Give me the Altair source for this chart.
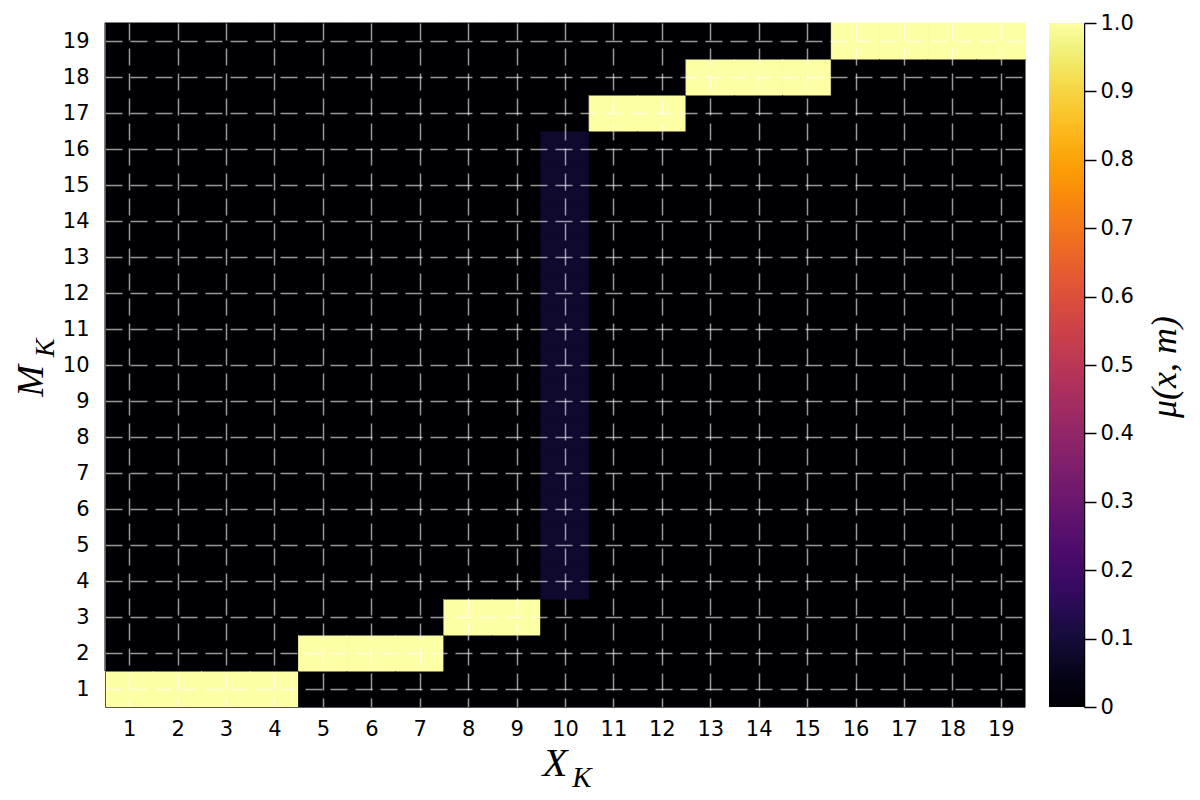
import altair as alt
import pandas as pd
import numpy as np

# ---- data ----
X_K = list(range(1, 20))
M_K = list(range(1, 20))

# non-zero cells of mu(x, m)
nz_x = [1, 2, 3, 4, 5, 6, 7, 8, 9] + [10] * 13 + [11, 12, 13, 14, 15, 16, 17, 18, 19]
nz_m = [1, 1, 1, 1, 2, 2, 2, 3, 3] + list(range(4, 17)) + [17, 17, 18, 18, 18, 19, 19, 19, 19]
nz_mu = [1.0] * 9 + [0.077] * 13 + [1.0] * 9

cbar_ticks = [0, 0.1, 0.2, 0.3, 0.4, 0.5, 0.6, 0.7, 0.8, 0.9, 1.0]

lookup = {(a, b): c for a, b, c in zip(nz_x, nz_m, nz_mu)}
rows = []
for x in X_K:
    for m in M_K:
        rows.append({"x": x, "m": m, "mu": lookup.get((x, m), 0.0)})
df = pd.DataFrame(rows)

# colorbar gradient samples
n = 200
cv = np.linspace(0, 1, n)
step = 1.0 / (n - 1)
cb = pd.DataFrame({"v": cv, "v2": np.minimum(cv + 1.6 * step, 1.0)})

W, H = 920, 684
FONT = "DejaVu Sans"
SERIF = "Liberation Serif"
LBL = 21

color_scale = alt.Scale(scheme="inferno", domain=[0, 1])

grid_kw = dict(
    grid=True, gridColor="#ffffff", gridOpacity=0.6, gridWidth=1.5, gridDash=[17, 8],
    ticks=False, domainColor="#555555", domainWidth=1, labelFont=FONT, labelFontSize=LBL,
    labelColor="black", title=None, zindex=1,
)

heat = alt.Chart(df).transform_calculate(
    x0="datum.x - 0.5", x1="datum.x + 0.5", y0="datum.m - 0.5", y1="datum.m + 0.5"
).mark_rect(strokeWidth=1).encode(
    x=alt.X("x0:Q", scale=alt.Scale(domain=[0.5, 19.5], nice=False, zero=False),
            axis=alt.Axis(values=X_K, labelPadding=11, **grid_kw)),
    x2="x1:Q",
    y=alt.Y("y0:Q", scale=alt.Scale(domain=[0.5, 19.5], nice=False, zero=False),
            axis=alt.Axis(values=M_K, orient="left", labelPadding=16, **grid_kw)),
    y2="y1:Q",
    color=alt.Color("mu:Q", scale=color_scale, legend=None),
    stroke=alt.Color("mu:Q", scale=color_scale, legend=None),
)

cbar = alt.Chart(cb).mark_rect(strokeWidth=0).encode(
    x=alt.value(W + 24),
    x2=alt.value(W + 59),
    y=alt.Y("v:Q", scale=alt.Scale(domain=[0, 1], nice=False, zero=False),
            axis=alt.Axis(orient="right", offset=59, values=cbar_ticks, grid=False,
                          labelExpr="datum.value == 0 ? '0' : format(datum.value, '.1f')",
                          domainColor="black", domainWidth=1.5, tickColor="black",
                          tickSize=12, tickWidth=1.5, labelPadding=4, labelFont=FONT,
                          labelFontSize=LBL, labelColor="black", title=None)),
    y2="v2:Q",
    color=alt.Color("v:Q", scale=color_scale, legend=None),
)


def label(txt, x, y, size, angle=0):
    return alt.Chart(pd.DataFrame({"t": [txt]})).mark_text(
        font=SERIF, fontStyle="italic", fontSize=size, align="center",
        baseline="alphabetic", angle=angle, color="black",
    ).encode(x=alt.value(x), y=alt.value(y), text="t:N")


titles = [
    label("X", 450, 753, 41),
    label("K", 477, 764, 29),
    label("M", -62, 358, 38, 270),
    label("K", -51, 325, 28, 270),
    label("μ(x, m)", 1071, 344, 36, 270),
]

chart = alt.layer(heat, cbar, *titles).resolve_scale(y="independent").properties(
    width=W, height=H,
    autosize=alt.AutoSizeParams(type="none"),
    padding={"left": 97, "top": 15, "right": 167, "bottom": 85},
).configure_view(stroke=None, fill="#000004")

chart.save("out.html", embed_options={"renderer": "svg", "actions": False})
